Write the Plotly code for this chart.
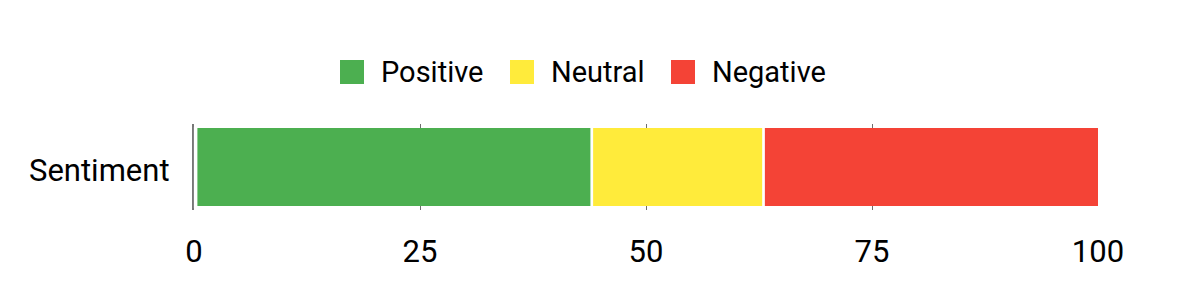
import plotly.graph_objects as go

categories = ["Sentiment"]
series_names = ["Positive", "Neutral", "Negative"]
series_values = [[44], [19], [37]]
series_colors = ["#4CAF50", "#FFEB3B", "#F44336"]
x_ticks = [0, 25, 50, 75, 100]

FONT = "Roboto"
FS_AX = 31
FS_LEG = 29

W, H = 1200, 300
L, R, T, B = 194, 102, 124, 90
pw, ph = W - L - R, H - T - B

def px_x(px):
    return (px - L) / pw

def px_y(py):
    return (H - B - py) / ph

fig = go.Figure()
for name, vals, col in zip(series_names, series_values, series_colors):
    fig.add_trace(go.Bar(
        y=categories, x=vals, name=name, orientation="h",
        marker=dict(color=col, line=dict(width=0)),
        showlegend=False,
    ))

# white separators between stacked segments (at cumulative boundaries)
cum = 0
for vals in series_values[:-1]:
    cum += vals[0]
    fig.add_shape(type="line", xref="x", yref="paper", x0=cum, x1=cum,
                  y0=px_y(208), y1=px_y(127), line=dict(color="white", width=2.7))

# small white gap between the axis line and the first segment
fig.add_shape(type="rect", xref="paper", yref="paper",
              x0=px_x(193.9), x1=px_x(197.4), y0=px_y(208), y1=px_y(127),
              fillcolor="white", line=dict(width=0))

# category labels (as annotations so they can sit slightly lower, like the reference)
for c in categories:
    fig.add_annotation(xref="paper", yref="y", x=px_x(172), y=c, yshift=-3,
                       xanchor="right", yanchor="middle", text=c, showarrow=False,
                       font=dict(family=FONT, size=FS_AX, color="black"))

# custom legend (large square swatches)
sq_left = [340, 510, 671]
txt_left = [381, 551, 712]
for i, (name, col) in enumerate(zip(series_names, series_colors)):
    fig.add_shape(type="rect", xref="paper", yref="paper",
                  x0=px_x(sq_left[i]), x1=px_x(sq_left[i] + 24),
                  y0=px_y(84), y1=px_y(60),
                  fillcolor=col, line=dict(width=0))
    fig.add_annotation(xref="paper", yref="paper", x=px_x(txt_left[i] - 2), y=px_y(72),
                       xanchor="left", yanchor="middle", text=name, showarrow=False,
                       font=dict(family=FONT, size=FS_LEG, color="black"))

fig.update_layout(
    width=W, height=H,
    margin=dict(l=L, r=R, t=T, b=B, autoexpand=False),
    barmode="stack", bargap=0.09,
    plot_bgcolor="white", paper_bgcolor="white",
    font=dict(family=FONT, size=FS_AX, color="black"),
    showlegend=False,
    xaxis=dict(range=[0, 100], tickvals=x_ticks, ticktext=[str(v) for v in x_ticks],
               showgrid=True, gridcolor="#6e6e6e", gridwidth=1,
               zeroline=False,
               ticks="outside", ticklen=14, tickcolor="rgba(0,0,0,0)",
               tickfont=dict(family=FONT, size=FS_AX, color="black"), fixedrange=True),
    yaxis=dict(showgrid=False, zeroline=False, showticklabels=False, ticks="",
               showline=True, linecolor="#777777", linewidth=2, fixedrange=True),
)

fig.write_html("out.html")
